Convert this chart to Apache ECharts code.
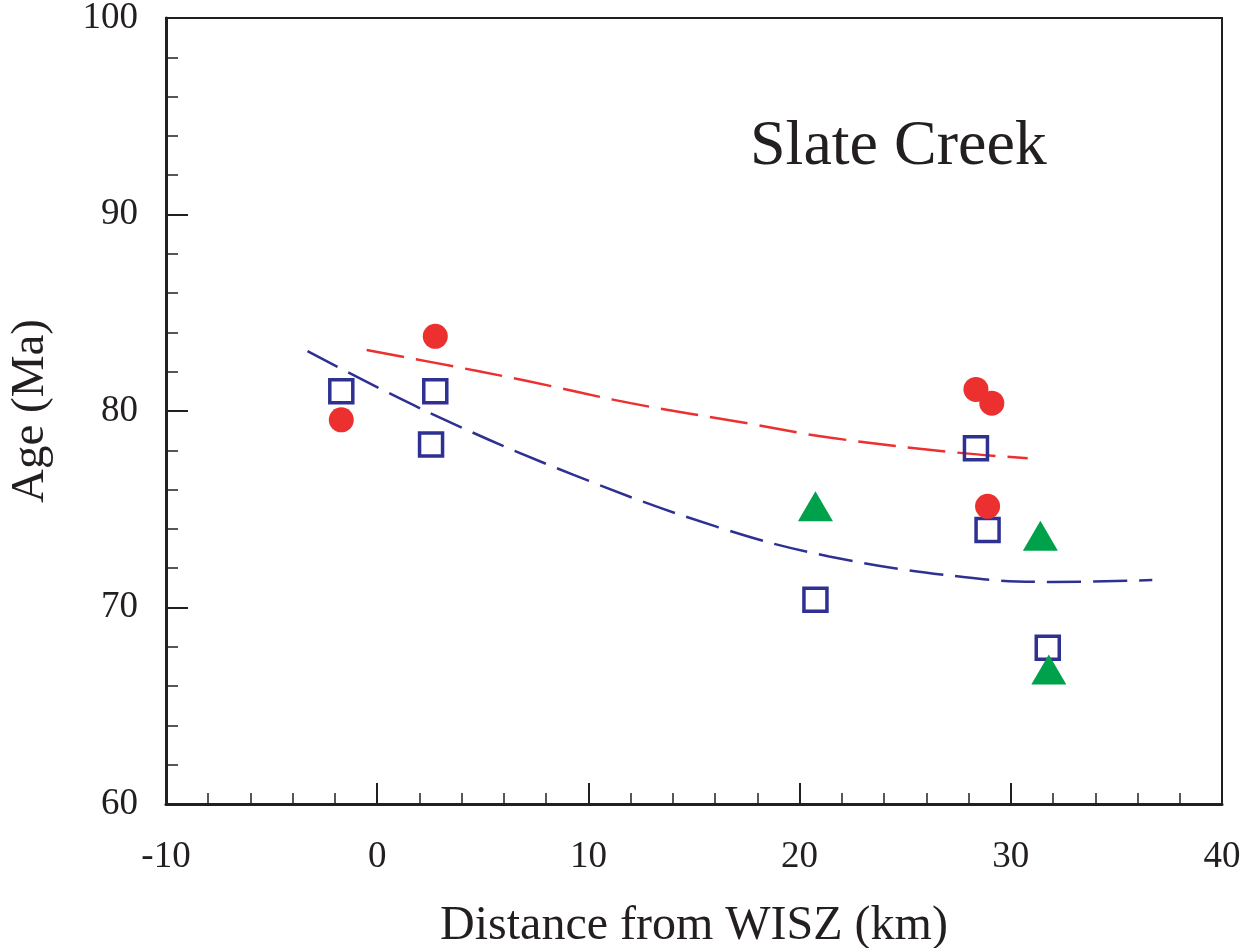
<!DOCTYPE html>
<html>
<head>
<meta charset="utf-8">
<title>Slate Creek</title>
<script src="https://cdn.jsdelivr.net/npm/echarts@6/dist/echarts.min.js"></script>
<style>
  html, body { margin: 0; padding: 0; background: #ffffff; }
  #chart { width: 1252px; height: 948px; }
</style>
</head>
<body>
<div id="chart"></div>
<script>
// Cooling ages versus distance from the WISZ, Slate Creek transect
const circleX = [-1.7, 2.75, 28.35, 29.1, 28.9];
const circleY = [79.55, 83.8, 81.1, 80.4, 75.15];

const squareX = [-1.7, 2.75, 2.55, 20.75, 28.35, 28.9, 31.75];
const squareY = [81.0, 81.0, 78.3, 70.4, 78.1, 73.95, 67.95];

const triangleX = [20.75, 31.4, 31.8];
const triangleY = [75.15, 73.65, 66.85];

// Trend curves
const redCurveX = [-0.5, 2.5, 7, 12, 17.65, 21.4, 27.3, 30.8];
const redCurveY = [83.1, 82.5, 81.55, 80.4, 79.35, 78.65, 77.9, 77.6];

const blueCurveX = [-3.3, 2.5, 9.3, 16.1, 21.4, 27.75, 31.9, 36.7];
const blueCurveY = [83.05, 79.9, 76.75, 74.1, 72.6, 71.55, 71.3, 71.4];

const xTicks = [-10, 0, 10, 20, 30, 40];
const yTicks = [60, 70, 80, 90, 100];

const ink = '#231F20';
const red = '#EC2F2F';
const blue = '#2E3192';
const green = '#00A14B';
const serif = '"Liberation Serif", "DejaVu Serif", serif';

const pairs = (xs, ys) => xs.map((x, i) => [x, ys[i]]);

const chart = echarts.init(document.getElementById('chart'), null, { renderer: 'canvas' });

chart.setOption({
  animation: false,
  backgroundColor: '#ffffff',
  title: {
    text: 'Slate Creek',
    left: 745,
    top: 110,
    textStyle: { fontFamily: serif, fontSize: 64, fontWeight: 'normal', color: ink }
  },
  grid: {
    left: 166, right: 30, top: 18, bottom: 144,
    containLabel: false,
    outerBoundsMode: 'none',
    show: true, borderColor: ink, borderWidth: 2, backgroundColor: 'transparent'
  },
  xAxis: {
    type: 'value',
    min: xTicks[0], max: xTicks[xTicks.length - 1], interval: 10,
    name: 'Distance from WISZ (km)',
    nameLocation: 'middle',
    nameGap: 98,
    nameTextStyle: { fontFamily: serif, fontSize: 48, color: ink },
    axisLine: { show: true, onZero: false, lineStyle: { color: ink, width: 3 } },
    axisTick: { show: true, inside: true, length: 21, lineStyle: { color: ink, width: 2 } },
    minorTick: { show: true, splitNumber: 5, length: 11, lineStyle: { color: ink, width: 1.5 } },
    axisLabel: { fontFamily: serif, fontSize: 37, color: ink, margin: 35 },
    splitLine: { show: false },
    minorSplitLine: { show: false }
  },
  yAxis: {
    type: 'value',
    min: yTicks[0], max: yTicks[yTicks.length - 1], interval: 10,
    name: 'Age (Ma)',
    nameLocation: 'middle',
    nameGap: 112,
    nameTextStyle: { fontFamily: serif, fontSize: 47, color: ink },
    axisLine: { show: true, onZero: false, lineStyle: { color: ink, width: 3 } },
    axisTick: { show: true, inside: true, length: 22, lineStyle: { color: ink, width: 2 } },
    minorTick: { show: true, splitNumber: 5, length: 12, lineStyle: { color: ink, width: 1.5 } },
    axisLabel: { fontFamily: serif, fontSize: 37, color: ink, margin: 28, padding: [26, 0, 0, 0] },
    splitLine: { show: false },
    minorSplitLine: { show: false }
  },
  series: [
    {
      name: 'red trend',
      type: 'line',
      data: pairs(redCurveX, redCurveY),
      smooth: 0.4,
      showSymbol: false,
      lineStyle: { color: red, width: 2.5, type: [38, 12] },
      z: 2
    },
    {
      name: 'blue trend',
      type: 'line',
      data: pairs(blueCurveX, blueCurveY),
      smooth: 0.4,
      showSymbol: false,
      lineStyle: { color: blue, width: 2.5, type: [34, 12] },
      z: 2
    },
    {
      name: 'squares',
      type: 'scatter',
      data: pairs(squareX, squareY),
      symbol: 'rect',
      symbolSize: 23,
      itemStyle: { color: 'rgba(0,0,0,0)', borderColor: blue, borderWidth: 3.5, opacity: 1 },
      z: 3
    },
    {
      name: 'circles',
      type: 'scatter',
      data: pairs(circleX, circleY),
      symbol: 'circle',
      symbolSize: 25,
      itemStyle: { color: red, opacity: 1 },
      z: 4
    },
    {
      name: 'triangles',
      type: 'scatter',
      data: pairs(triangleX, triangleY),
      symbol: 'triangle',
      symbolSize: [35, 30],
      itemStyle: { color: green, opacity: 1 },
      z: 5
    }
  ]
});
</script>
</body>
</html>
